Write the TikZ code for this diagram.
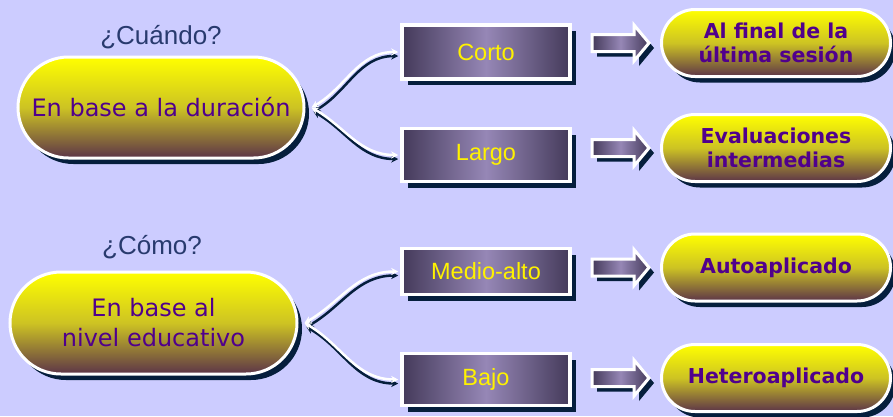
\documentclass[tikz,border=0pt]{standalone}
\usepackage{fontspec}
\usetikzlibrary{shapes.misc,shadows,arrows.meta,calc}
\newfontfamily\verd{DejaVu Sans}
\newfontfamily\arial{Liberation Sans}
\definecolor{fondo}{RGB}{204,204,255}
\definecolor{sombra}{RGB}{5,30,60}
\definecolor{pillmid}{RGB}{205,195,35}
\definecolor{pillbot}{RGB}{92,52,72}
\definecolor{pilltxt}{RGB}{80,0,140}
\definecolor{pregcol}{RGB}{40,58,110}
\definecolor{cajaborde}{RGB}{68,58,90}
\definecolor{cajamedio}{RGB}{150,135,182}
\tikzset{
  pill/.style={rounded rectangle, draw=white, line width=3pt, top color=yellow, bottom color=pillbot,
    middle color=pillmid, text=pilltxt, inner sep=0pt, align=center,
    drop shadow={shadow xshift=5pt, shadow yshift=-6pt, fill=sombra, opacity=1}},
  tiempo/.style={pill, font=\verd\fontsize{24}{30}\selectfont, minimum width=286, minimum height=101},
  resultado/.style={pill, font=\verd\bfseries\fontsize{20.5}{24}\selectfont, minimum width=229, minimum height=67},
  caja/.style={rectangle, draw=white, line width=3.5pt, left color=cajaborde, right color=cajaborde,
    middle color=cajamedio, text=yellow, font=\arial\fontsize{23.5}{27}\selectfont, minimum width=168, inner sep=0pt,
    drop shadow={shadow xshift=6pt, shadow yshift=-6pt, fill=sombra, opacity=1}},
  pregunta/.style={text=pregcol, font=\arial\fontsize{26}{30}\selectfont},
  enlace/.style={>={Stealth[length=7pt,width=7pt]}, <->, line width=2.5pt, draw=white},
  enlacesombra/.style={enlace, draw=sombra},
  flecha/.style={draw=white, line width=3pt, left color=cajaborde, right color=cajaborde, middle color=cajamedio}
}
\begin{document}
\begin{tikzpicture}[x=1pt,y=-1pt]
  \path[use as bounding box, fill=fondo] (0,0) rectangle (893,416);
  % columna izquierda
  \node[pregunta] (q1) at (161,37) {¿Cuándo?};
  \node[tiempo] (dur) at (161,107.5) {En base a la duración};
  \node[pregunta] (q2) at (152,247) {¿Cómo?};
  \node[tiempo, minimum width=287, minimum height=102] (niv) at (153.5,323) {En base al\\nivel educativo};
  % cajas
  \node[caja, minimum height=54] (corto) at (486,52) {Corto};
  \node[caja, minimum height=53] (largo) at (486,155) {Largo};
  \node[caja, minimum height=46] (medio) at (486,271.5) {Medio-alto};
  \node[caja, minimum height=52] (bajo) at (486,379.5) {Bajo};
  % resultados
  \node[resultado] (r1) at (776,43) {Al final de la\\última sesión};
  \node[resultado] (r2) at (776,148) {Evaluaciones\\intermedias};
  \node[resultado] (r3) at (776,267.5) {Autoaplicado};
  \node[resultado] (r4) at (776,378) {Heteroaplicado};
  % enlaces curvos
  \foreach \a/\b/\o in {dur/corto/30,dur/largo/-30,niv/medio/30,niv/bajo/-30}{
    \draw[enlacesombra] ([xshift=8pt,yshift=-4pt]\a.east) to[out=\o,in=180] ([xshift=-2pt,yshift=-4pt]\b.west);
    \draw[enlace] ([xshift=6pt]\a.east) to[out=\o,in=180] ([xshift=-2pt]\b.west);
  }
  % flechas gruesas
  \foreach \r in {r1,r2,r3,r4}{
    \fill[sombra, shift={($(\r.west)+(-63,5)$)}] (0,-8.5) -- (42,-8.5) -- (42,-18) -- (57,0) -- (42,18) -- (42,8.5) -- (0,8.5) -- cycle;
    \draw[flecha, shift={($(\r.west)+(-68,0)$)}] (0,-8.5) -- (42,-8.5) -- (42,-18) -- (57,0) -- (42,18) -- (42,8.5) -- (0,8.5) -- cycle;
  }
\end{tikzpicture}
\end{document}
